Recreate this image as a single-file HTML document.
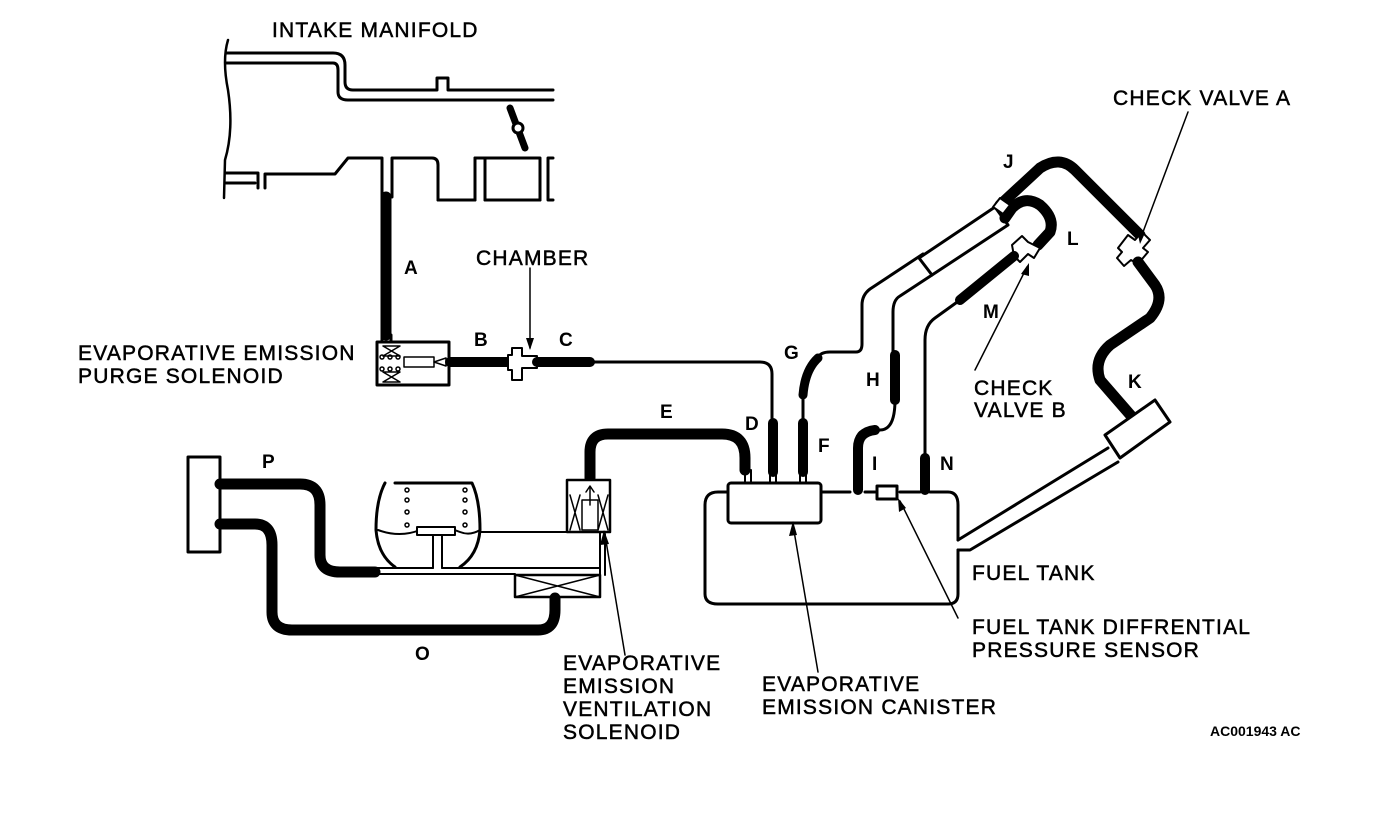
<!DOCTYPE html>
<html><head><meta charset="utf-8"><style>
html,body{margin:0;padding:0;background:#fff}
svg{display:block}
text{font-family:"Liberation Sans",Arial,sans-serif;fill:#000}
.l{font-size:21px;letter-spacing:1.2px;stroke:#000;stroke-width:0.5}
.b{font-size:19px;font-weight:bold}
</style></head><body>
<svg width="1392" height="816" viewBox="0 0 1392 816" xmlns="http://www.w3.org/2000/svg">
<g fill="none" stroke="#000" stroke-width="3" stroke-linejoin="round" stroke-linecap="round">
<!-- intake manifold -->
<path d="M228,40 Q222,60 228,90 Q234,130 225,160 L224,198" stroke-width="2.5"/>
<path d="M226,53 L333,53 Q345,53 345,65 L345,82 Q345,90 353,90 L437,90 L437,78 L448,78 L448,90 L553,90"/>
<path d="M226,63 L333,63 Q338,63 338,70 L338,92 Q338,100 348,100 L553,100"/>
<path d="M226,173 L258,173 L258,188 M226,183 L255,183"/>
<path d="M265,188 L265,174 L335,174 L348,158 L382,158 L382,197 M392,197 L392,158 L432,158 Q438,158 438,165 L438,200 L475,200 L475,158 M485,200 L485,158 L540,158 L540,200 M553,158 L548,158 L548,200 L553,200"/>
<path d="M485,158 L475,158 M438,200 L475,200 M485,200 L540,200"/>
<!-- throttle -->
<path d="M510,108 L525,148" stroke-width="7"/><circle cx="518" cy="128" r="5" fill="#fff"/>
<!-- hose A -->
<path d="M386,197 L386,335" stroke-width="11"/>
<path d="M382,335 L382,342 M391,335 L391,342"/>
<!-- purge solenoid -->
<rect x="377" y="342" width="72" height="43" fill="#fff"/>
<path d="M383,346 L400,346 L383,356 L400,356 Z M383,372 L400,372 L383,382 L400,382 Z" stroke-width="1.5"/>
<circle cx="382" cy="357" r="2" stroke-width="1.5"/><circle cx="390" cy="357" r="2" stroke-width="1.5"/><circle cx="398" cy="357" r="2" stroke-width="1.5"/>
<circle cx="382" cy="369" r="2" stroke-width="1.5"/><circle cx="390" cy="369" r="2" stroke-width="1.5"/><circle cx="398" cy="369" r="2" stroke-width="1.5"/>
<rect x="404" y="357" width="30" height="10" stroke-width="1.5"/>
<path d="M434,362 L446,358 L446,366 Z" stroke-width="1.5"/>
<!-- B, chamber, C -->
<path d="M450,362 L508,362" stroke-width="10"/>
<path d="M512,355 L512,348 L522,348 L522,356 L537,356 L537,368 L522,368 L522,380 L512,380 L512,370 L508,370 L508,355 Z" fill="#fff" stroke-width="2"/>
<path d="M537,362 L590,362" stroke-width="10"/>
<path d="M590,362 L760,362 Q772,362 772,374 L772,425"/>
<path d="M773,423 L773,472" stroke-width="10"/>
<!-- E -->
<path d="M590,478 L590,452 Q590,434 608,434 L722,434 Q745,434 745,458 L745,470" stroke-width="11"/>
<!-- F, G -->
<path d="M803,423 L803,472" stroke-width="10"/>
<path d="M803,395 Q805,370 818,358" stroke-width="9"/>
<path d="M803,395 L803,423 M818,358 Q820,352 830,352 L856,352 Q862,352 862,344 L862,305 Q862,295 870,289 L923,254"/>
<path d="M919,258 L995,207 L1008,225 L932,275 Z" fill="#fff"/>
<path d="M932,275 L900,296 Q893,300 893,312 L893,355"/>
<path d="M895,355 L895,400" stroke-width="10"/>
<path d="M895,400 Q895,430 880,430 L868,430 Q856,430 856,445 L856,490" stroke-width="3"/>
<path d="M858,490 L858,448 Q858,432 875,430" stroke-width="10"/>
<!-- J hose -->
<path d="M1000,205 L1040,168 Q1060,155 1075,170 L1140,235" stroke-width="11"/>
<path d="M1005,218 L1012,208 Q1025,195 1040,205 Q1055,218 1050,232 L1038,245" stroke-width="11"/>
<path d="M1000,198 L993,207 L1003,214 L1010,205 Z" fill="#fff" stroke-width="2"/>
<!-- check valve B -->
<path d="M1012,245 L1022,236 L1028,242 L1040,248 L1034,258 L1028,254 L1020,262 L1014,256 Z" fill="#fff" stroke-width="2"/>
<path d="M1014,256 L960,300" stroke-width="10"/>
<path d="M960,300 L935,318 Q925,325 925,340 L925,460"/>
<path d="M925,458 L925,490" stroke-width="10"/>
<!-- check valve A -->
<path d="M1118,248 L1128,235 L1135,240 L1142,232 L1150,240 L1143,248 L1148,252 L1138,264 L1131,260 L1124,266 L1117,258 L1122,252 Z" fill="#fff" stroke-width="2"/>
<path d="M1138,262 L1155,285 Q1165,300 1150,318 L1110,345 Q1093,360 1100,380 L1133,418" stroke-width="11"/>
<!-- K box -->
<path d="M1105,435 L1155,400 L1170,422 L1120,458 Z" fill="#fff"/>
<path d="M1108,448 L958,540 M1118,462 L970,550 L958,550"/>
<!-- fuel tank -->
<path d="M728,492 L718,492 Q705,492 705,505 L705,594 Q705,604 718,604 L948,604 Q958,604 958,594 L958,550"/>
<path d="M958,540 L958,505 Q958,492 948,492 L930,492 M920,492 L900,492 M875,492 L865,492 M850,492 L820,492"/>
<rect x="728" y="483" width="93" height="40" rx="3" fill="#fff"/>
<path d="M745,470 L745,483 M751,470 L751,483 M770,472 L770,483 M776,472 L776,483 M800,472 L800,483 M806,472 L806,483" stroke-width="2"/>
<rect x="877" y="486" width="20" height="13" fill="#fff"/>
<!-- left system -->
<rect x="188" y="457" width="32" height="95" fill="#fff"/>
<path d="M220,484 L300,484 Q320,484 320,505 L320,555 Q320,572 340,572 L375,572" stroke-width="11"/>
<path d="M220,524 L255,524 Q272,524 272,545 L272,612 Q272,630 292,630 L538,630 Q555,630 555,610 L555,598" stroke-width="11"/>
<path d="M375,568 L433,568 M442,568 L600,568 M375,574 L515,574" stroke-width="2"/>
<path d="M385,483 Q376,500 376,530 Q378,555 395,567 M395,483 L472,483 Q480,500 480,530 Q478,555 460,567" />
<path d="M378,530 Q400,538 420,530 Q440,524 460,532 Q470,536 480,530" stroke-width="2"/>
<rect x="417" y="527" width="38" height="8" fill="#fff" stroke-width="2"/>
<path d="M433,535 L433,568 M442,535 L442,568" stroke-width="2"/>
<g stroke-width="1.5">
<circle cx="407" cy="490" r="2"/><circle cx="407" cy="500" r="2"/><circle cx="407" cy="512" r="2"/><circle cx="407" cy="525" r="2"/>
<circle cx="465" cy="490" r="2"/><circle cx="465" cy="500" r="2"/><circle cx="465" cy="512" r="2"/><circle cx="465" cy="525" r="2"/>
</g>
<path d="M480,532 L567,532" stroke-width="2"/>
<rect x="515" y="575" width="85" height="22" stroke-width="2.5"/>
<path d="M515,575 L600,597 M515,597 L600,575" stroke-width="1.5"/>
<path d="M600,575 L600,532 M605,534 L605,575" stroke-width="2"/>
<rect x="567" y="480" width="43" height="52" fill="#fff" stroke-width="2.5"/>
<path d="M570,495 L580,530 M580,495 L570,530 M598,495 L608,530 M608,495 L598,530" stroke-width="1.5"/>
<rect x="582" y="500" width="16" height="30" stroke-width="1.5"/>
<path d="M590,505 L590,488 M586,492 L590,486 L594,492" stroke-width="1.5"/>
<!-- leader arrows -->
<g stroke-width="1.5">
<path d="M530,268 L530,348"/><path d="M1188,112 L1140,240"/><path d="M975,370 L1027,267"/>
<path d="M625,655 L605,535"/><path d="M818,672 L793,525"/><path d="M958,618 L900,501"/>
</g>
</g>
<g fill="#000">
<path d="M530,350 L526,338 L534,338 Z"/>
<path d="M1140,244 L1137,230 L1145,233 Z"/>
<path d="M1029,263 L1021,274 L1029,276 Z"/>
<path d="M604,530 L600,545 L609,544 Z"/>
<path d="M793,521 L789,536 L797,535 Z"/>
<path d="M898,498 L899,512 L906,508 Z"/>
</g>
<!-- labels -->
<text class="l" x="272" y="37">INTAKE MANIFOLD</text>
<text class="l" x="476" y="265">CHAMBER</text>
<text class="l" x="78" y="360">EVAPORATIVE EMISSION</text>
<text class="l" x="78" y="383">PURGE SOLENOID</text>
<text class="l" x="1113" y="105">CHECK VALVE A</text>
<text class="l" x="974" y="395">CHECK</text>
<text class="l" x="974" y="417">VALVE B</text>
<text class="l" x="972" y="580">FUEL TANK</text>
<text class="l" x="972" y="634">FUEL TANK DIFFRENTIAL</text>
<text class="l" x="972" y="657">PRESSURE SENSOR</text>
<text class="l" x="762" y="691">EVAPORATIVE</text>
<text class="l" x="762" y="714">EMISSION CANISTER</text>
<text class="l" x="563" y="670">EVAPORATIVE</text>
<text class="l" x="563" y="693">EMISSION</text>
<text class="l" x="563" y="716">VENTILATION</text>
<text class="l" x="563" y="739">SOLENOID</text>
<text x="1210" y="736" style="font-size:14px;font-weight:bold">AC001943 AC</text>
<text class="b" x="404" y="274">A</text>
<text class="b" x="474" y="346">B</text>
<text class="b" x="559" y="346">C</text>
<text class="b" x="745" y="430">D</text>
<text class="b" x="660" y="418">E</text>
<text class="b" x="818" y="452">F</text>
<text class="b" x="784" y="359">G</text>
<text class="b" x="866" y="386">H</text>
<text class="b" x="872" y="470">I</text>
<text class="b" x="1003" y="168">J</text>
<text class="b" x="1128" y="388">K</text>
<text class="b" x="1067" y="245">L</text>
<text class="b" x="983" y="318">M</text>
<text class="b" x="940" y="470">N</text>
<text class="b" x="415" y="660">O</text>
<text class="b" x="262" y="468">P</text>
</svg>
</body></html>
